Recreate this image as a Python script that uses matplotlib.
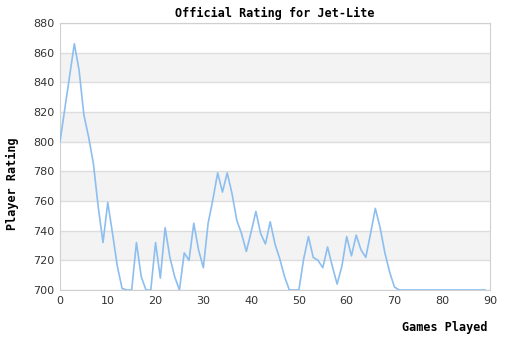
import matplotlib
matplotlib.use("Agg")
import matplotlib.pyplot as plt

# rating after each game
games = list(range(0, 90))
rating = [800, 822, 844, 866, 848, 818, 803, 785, 756, 732,
          759, 738, 716, 701, 700, 700, 732, 709, 700, 700,
          732, 708, 742, 722, 709, 700, 725, 720, 745, 727,
          715, 745, 761, 779, 766, 779, 765, 747, 738, 726,
          739, 753, 738, 731, 746, 731, 721, 709, 700, 700,
          700, 721, 736, 722, 720, 715, 729, 716, 704, 716,
          736, 723, 737, 727, 722, 738, 755, 742, 725, 712,
          702, 700] + [700] * 18

y_ticks = list(range(700, 881, 20))
x_ticks = list(range(0, 91, 10))

fig = plt.figure(figsize=(5.1, 3.4), dpi=100)
ax = fig.add_axes([60 / 510, 50 / 340, 430 / 510, 267 / 340])

# alternating background bands
for lo in range(720, 880, 40):
    ax.axhspan(lo, lo + 20, color="#f3f3f3", zorder=0, lw=0)
for y in y_ticks:
    ax.axhline(y, color="#dddddd", lw=1, zorder=1)

ax.plot(games, rating, color="#8cbff0", lw=1.2, zorder=3)

ax.set_xlim(0, 90)
ax.set_ylim(700, 880)
ax.set_xticks(x_ticks)
ax.set_yticks(y_ticks)
ax.tick_params(length=0, labelsize=8, colors="#333333", pad=4)
for s in ax.spines.values():
    s.set_color("#d0d0d0")

mono = "DejaVu Sans Mono"
ax.set_title("Official Rating for Jet-Lite", fontsize=8.5, fontweight="bold",
             family=mono, pad=4)
fig.text(12 / 510, 156 / 340, "Player Rating", rotation=90, ha="center",
         va="center", fontsize=8.5, fontweight="bold", family=mono)
fig.text(488 / 510, 13 / 340, "Games Played", ha="right", va="center",
         fontsize=8.5, fontweight="bold", family=mono)

fig.savefig("out.png", dpi=100)
